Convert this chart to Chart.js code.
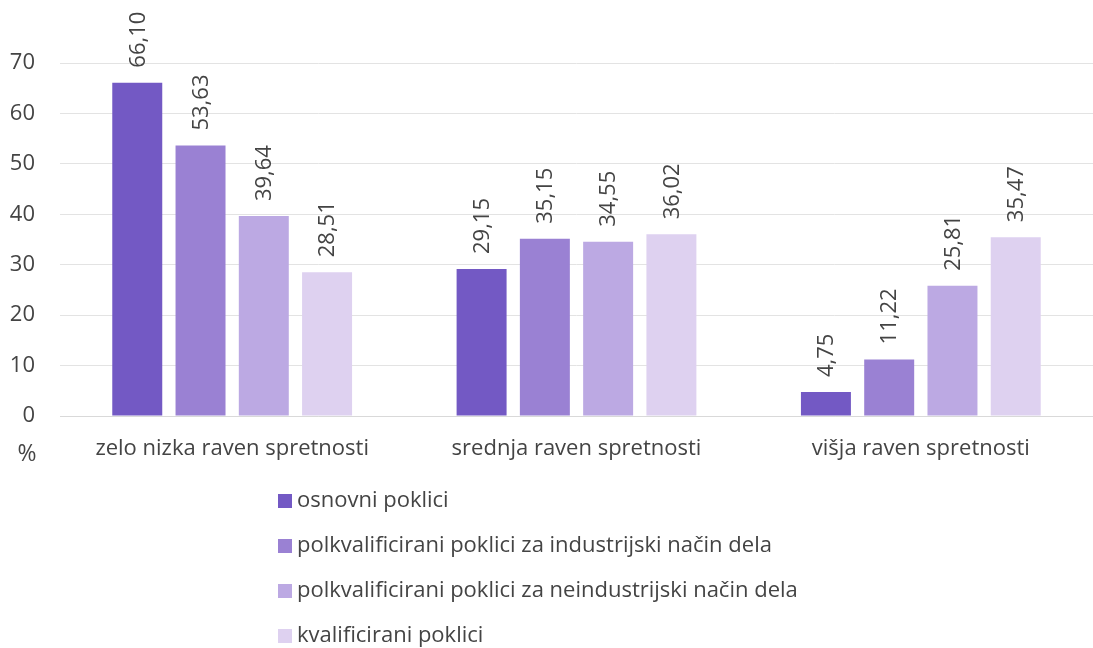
<!DOCTYPE html>
<html>
<head>
<meta charset="utf-8">
<script src="https://cdn.jsdelivr.net/npm/chart.js@4/dist/chart.umd.min.js"></script>
<style>
  html, body { margin: 0; padding: 0; background: #fff; }
  #wrap { width: 1093px; height: 648px; position: relative; }
</style>
</head>
<body>
<div id="wrap"><canvas id="chart"></canvas></div>
<script>
// podatki
const categories = ['zelo nizka raven spretnosti', 'srednja raven spretnosti', 'višja raven spretnosti'];
const seriesNames = [
  'osnovni poklici',
  'polkvalificirani poklici za industrijski način dela',
  'polkvalificirani poklici za neindustrijski način dela',
  'kvalificirani poklici'
];
const osnovni = [66.10, 29.15, 4.75];
const polkvalInd = [53.63, 35.15, 11.22];
const polkvalNeind = [39.64, 34.55, 25.81];
const kvalificirani = [28.51, 36.02, 35.47];
const yMax = 70;
const yStep = 10;
const unitLabel = '%';

const colors = ['#7359c4', '#9a81d3', '#bca9e3', '#ded1f0'];
const textColor = '#444';
const fontFamily = "'Open Sans', sans-serif";
const fontSize = 22;

const fmt = v => v.toFixed(2).replace('.', ',');

// vrednosti nad stolpci (navpično)
const valueLabels = {
  id: 'valueLabels',
  afterDatasetsDraw(chart) {
    const ctx = chart.ctx;
    ctx.save();
    ctx.font = fontSize + 'px ' + fontFamily;
    ctx.fillStyle = textColor;
    ctx.textAlign = 'left';
    ctx.textBaseline = 'middle';
    chart.data.datasets.forEach((ds, i) => {
      chart.getDatasetMeta(i).data.forEach((bar, j) => {
        ctx.save();
        ctx.translate(bar.x, bar.y - 15);
        ctx.rotate(-Math.PI / 2);
        ctx.fillText(fmt(ds.data[j]), 0, 1);
        ctx.restore();
      });
    });
    ctx.restore();
  }
};

// "%" pod osjo in navpična legenda
const extras = {
  id: 'extras',
  afterDraw(chart) {
    const ctx = chart.ctx;
    const area = chart.chartArea;
    ctx.save();
    ctx.font = '23px ' + fontFamily;
    ctx.fillStyle = textColor;
    ctx.textAlign = 'center';
    ctx.textBaseline = 'middle';
    ctx.fillText(unitLabel, 27, area.bottom + 38);

    ctx.font = fontSize + 'px ' + fontFamily;
    ctx.textAlign = 'left';
    chart.data.datasets.forEach((ds, i) => {
      const y = 501 + i * 45;
      ctx.fillStyle = ds.backgroundColor;
      ctx.fillRect(278, y - 7, 14, 14);
      ctx.fillStyle = textColor;
      ctx.fillText(ds.label, 297, y);
    });
    ctx.restore();
  }
};

const seriesData = [osnovni, polkvalInd, polkvalNeind, kvalificirani];

new Chart(document.getElementById('chart'), {
  type: 'bar',
  data: {
    labels: categories,
    datasets: seriesData.map((d, i) => ({
      label: seriesNames[i],
      data: d,
      backgroundColor: colors[i],
      categoryPercentage: 0.735,
      barPercentage: 0.79
    }))
  },
  options: {
    responsive: true,
    maintainAspectRatio: false,
    animation: false,
    layout: { padding: { top: 63, right: 0, bottom: 172, left: 0 } },
    plugins: {
      legend: { display: false },
      tooltip: { enabled: false }
    },
    scales: {
      x: {
        grid: { display: false },
        border: { color: '#d9d9d9', width: 1 },
        ticks: { color: textColor, font: { family: fontFamily, size: fontSize }, padding: 12, maxRotation: 0 },
        afterFit(scale) { scale.height = 60; }
      },
      y: {
        min: 0,
        max: yMax,
        ticks: { stepSize: yStep, color: textColor, font: { family: fontFamily, size: fontSize }, padding: 25 },
        grid: { color: '#e3e3e3', lineWidth: 1, drawTicks: false },
        border: { display: false },
        afterFit(scale) { scale.width = 60; }
      }
    }
  },
  plugins: [valueLabels, extras]
});
</script>
</body>
</html>
